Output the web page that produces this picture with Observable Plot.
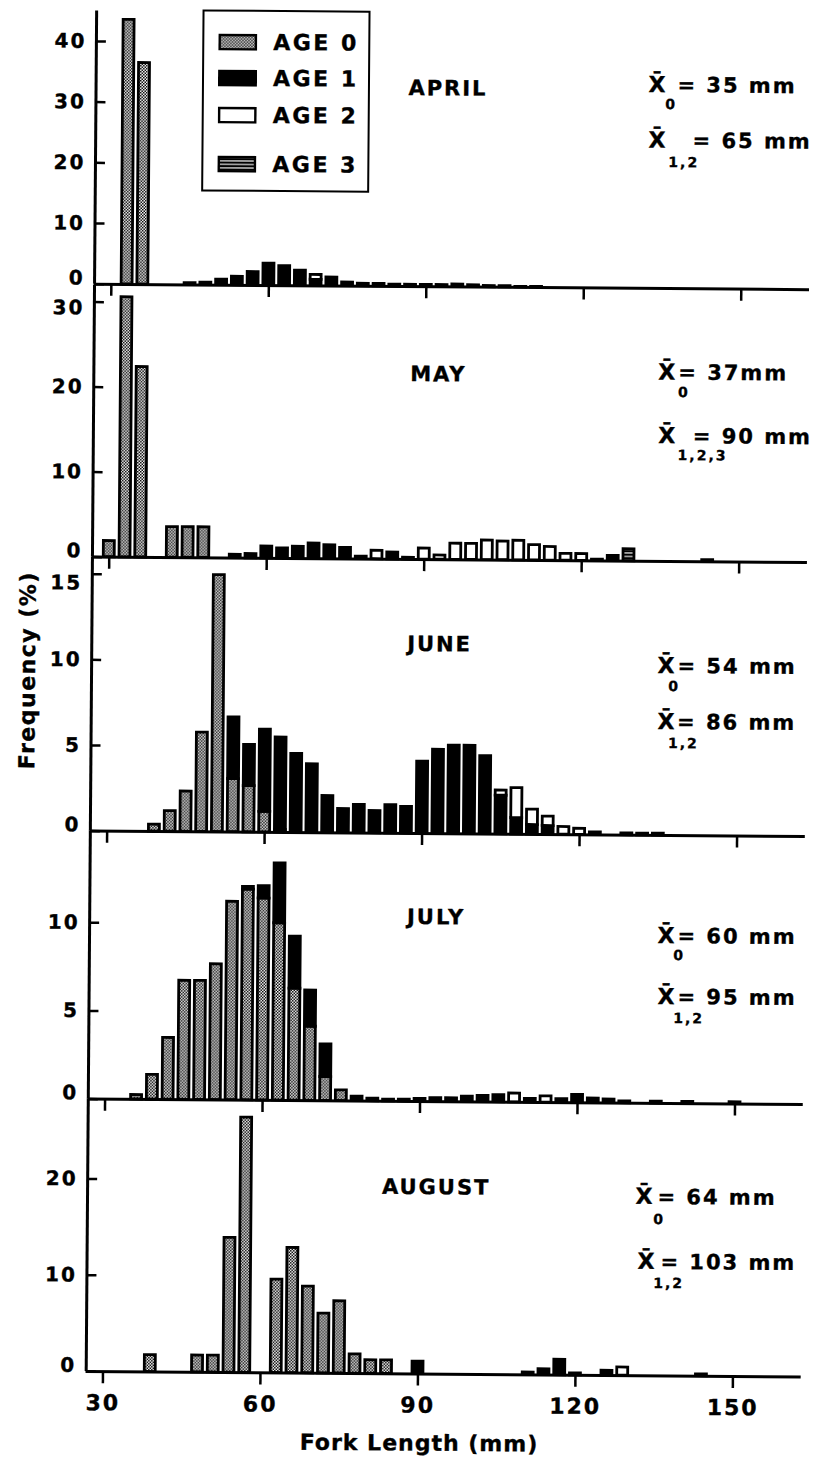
<!DOCTYPE html>
<html>
<head>
<meta charset="utf-8">
<script src="https://cdn.jsdelivr.net/npm/d3@7"></script>
<script src="https://cdn.jsdelivr.net/npm/@observablehq/plot@0.6"></script>
<style>
html, body { margin: 0; padding: 0; background: #fff; }
#fig { position: relative; width: 815px; height: 1466px; transform: rotate(0.44deg); transform-origin: 407.5px 733px;
  font-family: "DejaVu Sans", sans-serif; font-weight: bold; color: #000; }
#fig svg.panel { position: absolute; left: 0; overflow: visible; }
#fig svg.panel text { letter-spacing: 2px; stroke: #000; stroke-width: 0.35px; }
.abs { position: absolute; white-space: nowrap; -webkit-text-stroke: 0.35px #000; }
#legend { position: absolute; box-sizing: border-box; border: 2.5px solid #000; background: #fff; }
#legend .row { position: absolute; left: 0; height: 24px; }
#legend .sw { position: absolute; width: 39px; height: 17px; }
#legend .tx { position: absolute; font-size: 22px; line-height: 24px; letter-spacing: 2.5px; -webkit-text-stroke: 0.35px #000; }
</style>
</head>
<body>
<svg width="0" height="0" style="position:absolute">
  <defs>
    <pattern id="stipple" width="3" height="3" patternUnits="userSpaceOnUse">
      <rect width="3" height="3" fill="#fff"/>
      <rect width="1.5" height="1.5" fill="#000"/>
      <rect x="1.5" y="1.5" width="1.5" height="1.5" fill="#000"/>
    </pattern>
    <pattern id="stripes" width="6" height="3.5" patternUnits="userSpaceOnUse">
      <rect width="6" height="3.5" fill="#000"/>
      <rect y="1.2" width="6" height="1.1" fill="#fff"/>
    </pattern>
  </defs>
</svg>
<div id="fig"></div>
<script>
// ---------------- data ----------------
const ages = ["AGE 0", "AGE 1", "AGE 2", "AGE 3"];
const ageFills = ["url(#stipple)", "#000", "#fff", "url(#stripes)"];
const months = ["APRIL", "MAY", "JUNE", "JULY", "AUGUST"];
const meanAge0Text = ["= 35 mm", "= 37mm", "= 54 mm", "= 60 mm", "= 64 mm"];
const meanOlderText = ["= 65 mm", "= 90 mm", "= 86 mm", "= 95 mm", "= 103 mm"];
const olderSubscript = ["1,2", "1,2,3", "1,2", "1,2", "1,2"];
const xTicks = [30, 60, 90, 120, 150];
const yTicks = [[0, 10, 20, 30, 40], [0, 10, 20, 30], [0, 5, 10, 15], [0, 5, 10], [0, 10, 20]];
const yMax = [45.0, 32.0, 16.0, 15.2, 28.3];
const binWidth = 3; // mm, bins given by their centre
const xTitle = "Fork Length (mm)";
const yTitle = "Frequency (%)";

// [bin centre (mm), frequency (%)]
const aprilAge0 = [[33, 43.6], [36, 36.5]];
const aprilAge1 = [[45, 0.3], [48, 0.4], [51, 0.9], [54, 1.4], [57, 2.2], [60, 3.6], [63, 3.2], [66, 2.5], [69, 1.0], [72, 1.4],
  [75, 0.6], [78, 0.4], [81, 0.4], [84, 0.3], [87, 0.3], [90, 0.3], [93, 0.3], [96, 0.4], [99, 0.3], [102, 0.2], [105, 0.2],
  [108, 0.1], [111, 0.1]];
const aprilAge2 = [[69, 0.8]];
const aprilAge3 = [];

const mayAge0 = [[30, 1.9], [33, 30.6], [36, 22.4], [42, 3.6], [45, 3.6], [48, 3.6]];
const mayAge1 = [[54, 0.4], [57, 0.5], [60, 1.4], [63, 1.2], [66, 1.4], [69, 1.8], [72, 1.6], [75, 1.3], [78, 0.3], [84, 0.8],
  [87, 0.2], [126, 0.6], [144, 0.2]];
const mayAge2 = [[81, 1.0], [90, 1.3], [93, 0.5], [96, 1.9], [99, 1.9], [102, 2.3], [105, 2.2], [108, 2.3], [111, 1.8],
  [114, 1.6], [117, 0.8], [120, 0.8], [123, 0.15]];
const mayAge3 = [[129, 1.4]];

const juneAge0 = [[39, 0.4], [42, 1.2], [45, 2.35], [48, 5.8], [51, 15.0], [54, 3.1], [57, 2.7], [60, 1.2], [63, 0.15]];
const juneAge1 = [[54, 3.6], [57, 2.4], [60, 4.8], [63, 5.4], [66, 4.6], [69, 4.0], [72, 2.15], [75, 1.4], [78, 1.65],
  [81, 1.3], [84, 1.65], [87, 1.55], [90, 4.2], [93, 4.9], [96, 5.15], [99, 5.15], [102, 4.55], [105, 2.25], [108, 0.95],
  [111, 0.55], [114, 0.5], [123, 0.15], [129, 0.1], [132, 0.1], [135, 0.1]];
const juneAge2 = [[105, 0.3], [108, 1.75], [111, 0.9], [114, 0.55], [117, 0.45], [120, 0.35]];
const juneAge3 = [];

const julyAge0 = [[36, 0.25], [39, 1.4], [42, 3.5], [45, 6.75], [48, 6.75], [51, 7.7], [54, 11.25], [57, 11.95], [60, 11.45],
  [63, 10.05], [66, 6.35], [69, 4.2], [72, 1.35], [75, 0.6]];
const julyAge1 = [[57, 0.15], [60, 0.7], [63, 3.4], [66, 2.95], [69, 2.05], [72, 1.85], [78, 0.25], [81, 0.15], [84, 0.1],
  [87, 0.1], [90, 0.15], [93, 0.2], [96, 0.2], [99, 0.3], [102, 0.35], [105, 0.4], [111, 0.2], [117, 0.2], [120, 0.45],
  [123, 0.25], [126, 0.2], [129, 0.1], [135, 0.1], [141, 0.1], [150, 0.1]];
const julyAge2 = [[108, 0.5], [114, 0.35]];
const julyAge3 = [];

const augustAge0 = [[39, 1.75], [48, 1.75], [51, 1.75], [54, 14.0], [57, 26.5], [63, 9.7], [66, 13.0], [69, 9.0], [72, 6.2],
  [75, 7.5], [78, 2.0], [81, 1.4], [84, 1.4]];
const augustAge1 = [[90, 1.3], [111, 0.25], [114, 0.6], [117, 1.6], [120, 0.2], [126, 0.5], [144, 0.2]];
const augustAge2 = [[129, 0.85]];
const augustAge3 = [];

const monthSeries = [
  [aprilAge0, aprilAge1, aprilAge2, aprilAge3],
  [mayAge0, mayAge1, mayAge2, mayAge3],
  [juneAge0, juneAge1, juneAge2, juneAge3],
  [julyAge0, julyAge1, julyAge2, julyAge3],
  [augustAge0, augustAge1, augustAge2, augustAge3]
];

// ---------------- layout ----------------
const W = 815;
const axisLeft = 90.6, axisRight = 805.6;
const xDomain = [26.8, 163];
const panelTop = [13.4, 286.5, 558.5, 832.5, 1100.5];
const panelBase = [286.5, 558.5, 832.5, 1100.5, 1373];
const topLabelShift = [0, 6, 9, 0, 0];   // px nudge of the highest y label
const zeroLabelShift = -6;               // px nudge of the "0" label
// annotation anchors (left x, baseline y) in page pixels
const annot = [
  {month: [403, 95], x1: [643, 90], eq1: [672, 90], s1: [660, 107], x2: [643.5, 145.5], eq2: [687.5, 145.5], s2: [663.5, 165]},
  {month: [407, 380], x1: [655, 376.5], eq1: [675, 376.5], s1: [675, 394], x2: [655.5, 440], eq2: [690, 440], s2: [675, 457]},
  {month: [406, 650], x1: [656.5, 670], eq1: [676.5, 670], s1: [667.5, 688], x2: [657, 726], eq2: [676.5, 726], s2: [667.5, 745]},
  {month: [408, 923], x1: [658.5, 940], eq1: [678.5, 940], s1: [674.5, 957], x2: [659, 1001], eq2: [679, 1001], s2: [675, 1020]},
  {month: [385, 1193], x1: [638.5, 1201], eq1: [660.5, 1201], s1: [656.5, 1221], x2: [641, 1266], eq2: [664, 1266], s2: [657, 1285]}
];

const fig = document.getElementById("fig");

function note(text, pos, size, top) {
  return Plot.text([text], {
    text: d => d, frameAnchor: "top-left", dx: pos[0] - axisLeft, dy: pos[1] - top,
    textAnchor: "start", lineAnchor: "bottom", fontSize: size, fontWeight: "bold"
  });
}

function yLabels(ticks, dy) {
  return Plot.axisY({ticks, tickSize: 0, tickPadding: 10, fontSize: 20, fontWeight: "bold", label: null, dy});
}

months.forEach((month, i) => {
  const rows = [];
  monthSeries[i].forEach((series, k) => {
    series.forEach(([c, v]) => rows.push({x1: c - binWidth / 2, x2: c + binWidth / 2, freq: v, age: ages[k]}));
  });
  const last = i === months.length - 1;
  const top = panelTop[i], base = panelBase[i];
  const mb = last ? 50 : 14;
  const frameW = axisRight - axisLeft;
  const a = annot[i];
  const ticks = yTicks[i];
  const chart = Plot.plot({
    width: W,
    height: (base - top) + mb,
    marginTop: 0,
    marginBottom: mb,
    marginLeft: axisLeft,
    marginRight: W - axisRight,
    style: {fontFamily: "DejaVu Sans", fontWeight: "bold", color: "#000", background: "transparent", overflow: "visible"},
    x: {domain: xDomain},
    y: {domain: [0, yMax[i]]},
    color: {domain: ages, range: ageFills},
    marks: [
      Plot.rectY(rows, Plot.stackY({x1: "x1", x2: "x2", y: "freq", fill: "age", stroke: "#000", strokeWidth: 2.8, insetLeft: 2.4, insetRight: 2.4})),
      Plot.ruleY([0], {strokeWidth: 3}),
      Plot.ruleX([xDomain[0]], {strokeWidth: 3}),
      Plot.ruleY(ticks, {strokeWidth: 2.5, insetRight: frameW - 10}),
      yLabels(ticks.slice(0, 1), zeroLabelShift),
      yLabels(ticks.slice(1, -1), 0),
      yLabels(ticks.slice(-1), topLabelShift[i]),
      Plot.axisX({ticks: xTicks, tickSize: 12, tickPadding: 11, strokeWidth: 2.5, fontSize: 22, fontWeight: "bold",
        fill: last ? "#000" : "none", label: null}),
      note(month, a.month, 21, top),
      note("X\u0304", a.x1, 22, top),
      note(meanAge0Text[i], a.eq1, 21, top),
      note("0", a.s1, 14, top),
      note("X\u0304", a.x2, 22, top),
      note(meanOlderText[i], a.eq2, 21, top),
      note(olderSubscript[i], a.s2, 14, top)
    ]
  });
  chart.classList.add("panel");
  chart.style.top = top + "px";
  fig.appendChild(chart);
});

// legend (inside April panel)
const legend = document.createElement("div");
legend.id = "legend";
Object.assign(legend.style, {left: "197px", top: "11px", width: "168px", height: "182px"});
const legendRowY = [31, 67, 104, 153];
ages.forEach((age, k) => {
  const row = document.createElement("div");
  row.className = "row";
  row.style.top = (legendRowY[k] - 12) + "px";
  row.style.width = "160px";
  row.innerHTML = `<svg class="sw" style="left:14px;top:3px" width="39" height="17"><rect x="1.3" y="1.3" width="36.4" height="14.4" fill="${ageFills[k]}" stroke="#000" stroke-width="2.6"/></svg><span class="tx" style="left:69px;top:0">${age}</span>`;
  legend.appendChild(row);
});
fig.appendChild(legend);

// axis titles
const yt = document.createElement("div");
yt.className = "abs";
yt.textContent = yTitle;
Object.assign(yt.style, {left: "26.5px", top: "673px", fontSize: "22px", letterSpacing: "1.5px",
  transform: "translate(-50%, -50%) rotate(-90deg)"});
fig.appendChild(yt);

const xt = document.createElement("div");
xt.className = "abs";
xt.textContent = xTitle;
Object.assign(xt.style, {left: "424.5px", top: "1443px", fontSize: "22px", letterSpacing: "1px",
  transform: "translate(-50%, -50%)"});
fig.appendChild(xt);
</script>
</body>
</html>
